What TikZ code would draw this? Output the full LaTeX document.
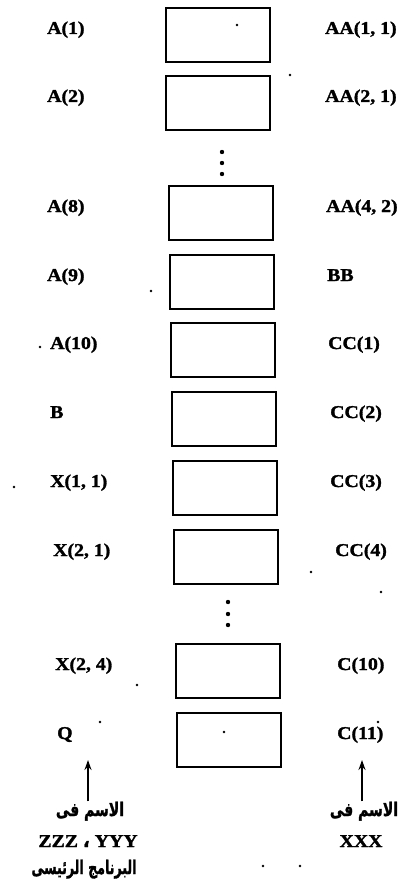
\documentclass[tikz,border=0pt]{standalone}
\usepackage{fontspec}
\usetikzlibrary{arrows.meta}
\newfontfamily\labfont{Liberation Serif}[FakeStretch=1.1,FakeBold=1.6]
\newfontfamily\arabicfont[Script=Arabic,FakeBold=1.5]{DejaVu Sans}
\TeXXeTstate=1
\begin{document}
\begin{tikzpicture}[x=1pt,y=-1pt,
  cell/.style={draw, line width=2pt, minimum width=104pt, minimum height=54pt, inner sep=0pt},
  lbl/.style={font=\labfont\bfseries\fontsize{18}{20}\selectfont, inner sep=0pt, anchor=base west},
  lblc/.style={font=\labfont\bfseries\fontsize{18}{20}\selectfont, inner sep=0pt, anchor=base},
  arab/.style={font=\arabicfont\bfseries\fontsize{14}{16}\selectfont, inner sep=0pt, anchor=base},
  speck/.style={fill, circle, inner sep=0pt, minimum size=2.6pt},
  vdot/.style={fill, circle, inner sep=0pt, minimum size=4.4pt},
  arr/.style={-{Stealth[length=10pt,width=7pt]}, line width=1.8pt}]
\useasboundingbox (0,0) rectangle (405,896);

% boxes
\node[cell] (b1)  at (218,35) {};
\node[cell] (b2)  at (218,103.5) {};
\node[cell] (b3)  at (220.5,213) {};
\node[cell] (b4)  at (221.5,282) {};
\node[cell] (b5)  at (222.5,350) {};
\node[cell] (b6)  at (223.5,419) {};
\node[cell] (b7)  at (224.5,488) {};
\node[cell] (b8)  at (225.5,557) {};
\node[cell] (b9)  at (228,671) {};
\node[cell] (b10) at (229,740) {};

% left labels
\node[lbl] (l1)  at (47,34)  {A(1)};
\node[lbl] (l2)  at (47,102) {A(2)};
\node[lbl] (l3)  at (47,212) {A(8)};
\node[lbl] (l4)  at (47,281) {A(9)};
\node[lbl] (l5)  at (50,349) {A(10)};
\node[lbl] (l6)  at (50,418) {B};
\node[lbl] (l7)  at (50,487) {X(1, 1)};
\node[lbl] (l8)  at (53,556) {X(2, 1)};
\node[lbl] (l9)  at (55,670) {X(2, 4)};
\node[lbl] (l10) at (57,739) {Q};

% right labels
\node[lbl] (r1)  at (325,34)  {AA(1, 1)};
\node[lbl] (r2)  at (325,102) {AA(2, 1)};
\node[lbl] (r3)  at (326,212) {AA(4, 2)};
\node[lbl] (r4)  at (327,281) {BB};
\node[lbl] (r5)  at (328,349) {CC(1)};
\node[lbl] (r6)  at (330,418) {CC(2)};
\node[lbl] (r7)  at (330,487) {CC(3)};
\node[lbl] (r8)  at (335,556) {CC(4)};
\node[lbl] (r9)  at (337,670) {C(10)};
\node[lbl] (r10) at (337,739) {C(11)};

% vertical ellipses
\node[vdot] (d1a) at (222,152) {};
\node[vdot] (d1b) at (222,163) {};
\node[vdot] (d1c) at (222,174) {};
\node[vdot] (d2a) at (228,602) {};
\node[vdot] (d2b) at (228,614) {};
\node[vdot] (d2c) at (228,625) {};

% bottom texts
\node[arab] (arL) at (90,816) {\scalebox{1}[1.35]{\beginR الاسم فى\endR}};
\node[lblc] (zy)  at (88,847) {ZZZ {\arabicfont\bfseries ،} YYY};
\node[arab] (prg) at (84,874) {\scalebox{0.9}[1.35]{\beginR البرنامج الرئيسى\endR}};
\node[arab] (arR) at (364,816) {\scalebox{1}[1.35]{\beginR الاسم فى\endR}};
\node[lblc] (xx)  at (361,847) {XXX};

% arrows
\coordinate (tipL) at (88,760);
\coordinate (tipR) at (362,760);
\draw[arr] (arL.north -| tipL) -- (tipL);
\draw[arr] (arR.north -| tipR) -- (tipR);

% specks
\foreach \p in {(237,25),(290,75),(151,291),(40,347),(14,487),(311,572),(381,592),(137,685),(100,722),(224,732),(378,722),(263,866),(300,866)}
  \node[speck] at \p {};
\end{tikzpicture}
\end{document}
